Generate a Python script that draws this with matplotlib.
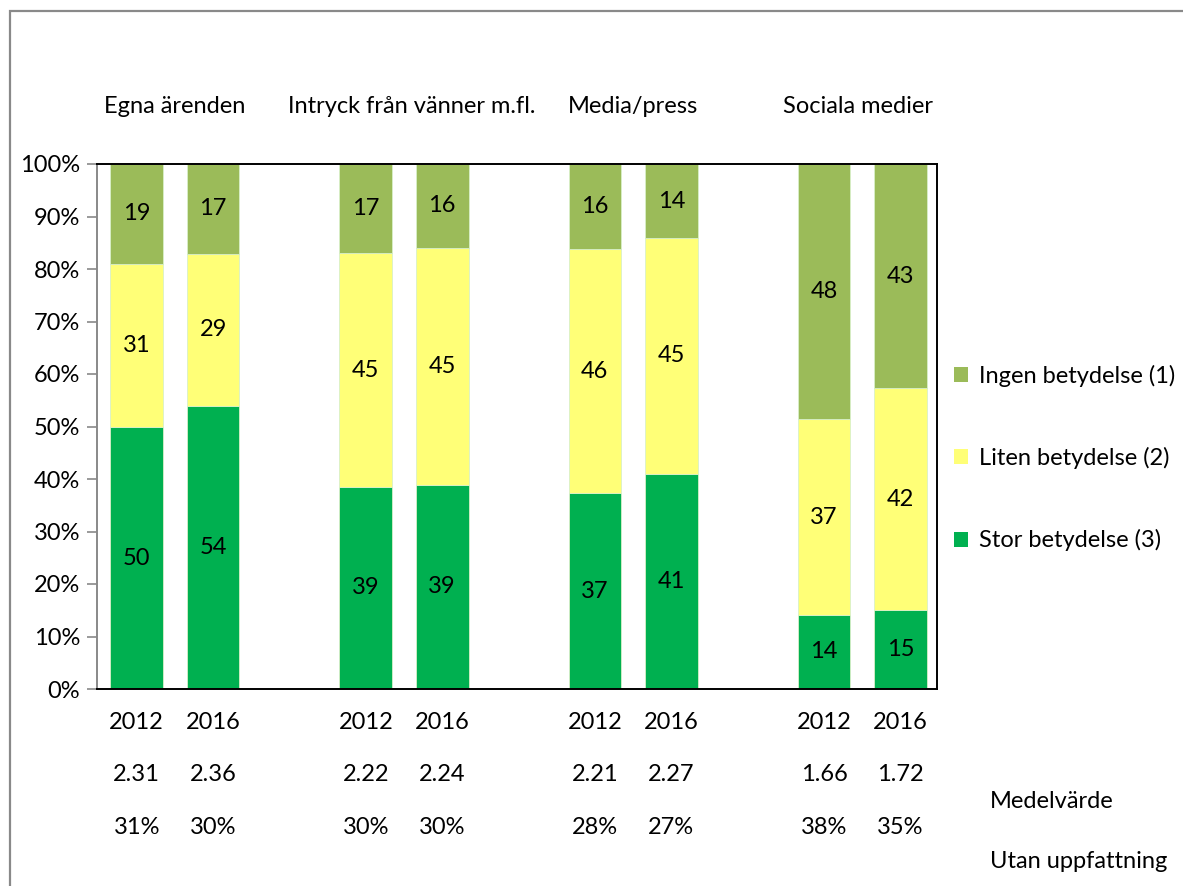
import matplotlib
matplotlib.use("Agg")
import matplotlib.pyplot as plt
from matplotlib import rcParams
from matplotlib.patches import Rectangle, Patch
import matplotlib.transforms as mtransforms

rcParams["font.family"] = ["Lato", "DejaVu Sans"]

INGEN = "#9BBB59"
LITEN = "#FFFF77"
STOR = "#00B050"
FRAME = "#898989"

groups = ["Egna ärenden", "Intryck från vänner m.fl.", "Media/press", "Sociala medier"]
years = ["2012", "2016"] * 4
# shares in percent (bottom to top)
stor = [49.9, 53.9, 38.5, 38.9, 37.3, 41.0, 14.1, 15.0]
liten = [31.1, 29.0, 44.5, 45.1, 46.5, 44.9, 37.3, 42.3]
ingen = [19.0, 17.1, 17.0, 16.0, 16.2, 14.1, 48.6, 42.7]
stor_lbl = [50, 54, 39, 39, 37, 41, 14, 15]
liten_lbl = [31, 29, 45, 45, 46, 45, 37, 42]
ingen_lbl = [19, 17, 17, 16, 16, 14, 48, 43]
medel = ["2.31", "2.36", "2.22", "2.24", "2.21", "2.27", "1.66", "1.72"]
utan = ["31%", "30%", "30%", "30%", "28%", "27%", "38%", "35%"]

xpos = [0, 1, 3, 4, 6, 7, 9, 10]
FS = 17

fig = plt.figure(figsize=(11.83, 8.86), dpi=100)
fig.patches.append(Rectangle((10 / 1183, -0.1), 1.2, 1 - 11 / 886 + 0.1,
                             transform=fig.transFigure, fill=False,
                             edgecolor=FRAME, lw=1.6))
ax = fig.add_axes([97 / 1183, 1 - 689 / 886, 840 / 1183, 525 / 886])

w = 0.69
ax.bar(xpos, stor, width=w, color=STOR, edgecolor="#d8f0c8", lw=0.6, zorder=2)
ax.bar(xpos, liten, width=w, bottom=stor, color=LITEN, edgecolor="#d8f0c8", lw=0.6, zorder=2)
bot2 = [a + b for a, b in zip(stor, liten)]
ax.bar(xpos, ingen, width=w, bottom=bot2, color=INGEN, edgecolor="#d8f0c8", lw=0.6, zorder=2)

for i, x in enumerate(xpos):
    ax.text(x, stor[i] / 2, str(stor_lbl[i]), ha="center", va="center", fontsize=FS, zorder=3)
    ax.text(x, stor[i] + liten[i] / 2, str(liten_lbl[i]), ha="center", va="center", fontsize=FS, zorder=3)
    ax.text(x, bot2[i] + ingen[i] / 2, str(ingen_lbl[i]), ha="center", va="center", fontsize=FS, zorder=3)

trans = mtransforms.blended_transform_factory(ax.transData, ax.transAxes)
for i, x in enumerate(xpos):
    ax.text(x, -0.063, years[i], transform=trans, ha="center", va="center", fontsize=FS)
    ax.text(x, -0.162, medel[i], transform=trans, ha="center", va="center", fontsize=FS)
    ax.text(x, -0.263, utan[i], transform=trans, ha="center", va="center", fontsize=FS)

gx = [0.5, 3.6, 6.5, 9.45]
for g, x in zip(groups, gx):
    ax.text(x, 1.109, g, transform=trans, ha="center", va="center", fontsize=FS)

ax.set_xlim(-0.52, 10.48)
ax.set_ylim(0, 100)
ax.set_yticks(range(0, 101, 10))
ax.set_yticklabels([f"{v}%" for v in range(0, 101, 10)], fontsize=FS)
ax.set_xticks([])
ax.tick_params(axis="y", direction="out", length=7, width=1.2, color=FRAME, pad=5)
ax.spines["left"].set_color(FRAME)
ax.spines["left"].set_linewidth(1.4)
for s in ["top", "right", "bottom"]:
    ax.spines[s].set_color("black")
    ax.spines[s].set_linewidth(1.4)

handles = [Patch(facecolor=INGEN, label="Ingen betydelse (1)"),
           Patch(facecolor=LITEN, label="Liten betydelse (2)"),
           Patch(facecolor=STOR, label="Stor betydelse (3)")]
fig.legend(handles=handles, loc="center left", bbox_to_anchor=(954 / 1183, 1 - 458 / 886),
           frameon=False, fontsize=FS, labelspacing=2.55, handlelength=0.6,
           handleheight=0.6, handletextpad=0.45, borderpad=0, borderaxespad=0)

fig.text(990 / 1183, 1 - 802 / 886, "Medelvärde", ha="left", va="center", fontsize=FS)
fig.text(990 / 1183, 1 - 862 / 886, "Utan uppfattning", ha="left", va="center", fontsize=FS)

fig.savefig("out.png", dpi=100)
